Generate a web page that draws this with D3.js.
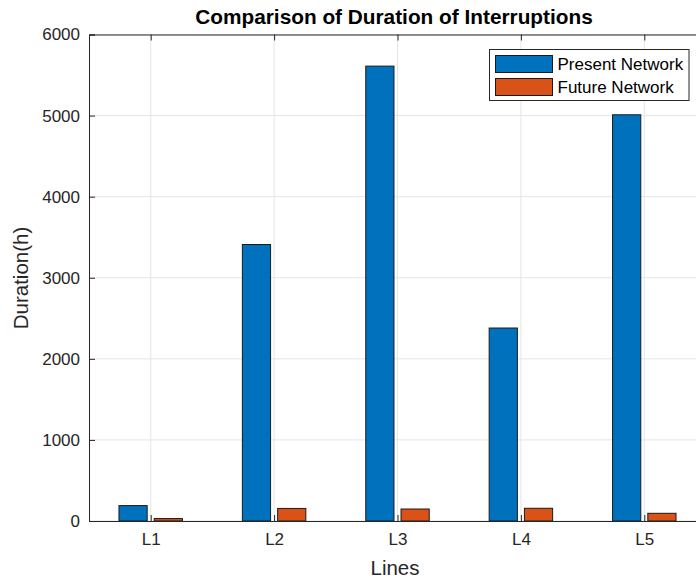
<!DOCTYPE html>
<html>
<head>
<meta charset="utf-8">
<script src="https://cdn.jsdelivr.net/npm/d3@7"></script>
<style>
  html, body { margin: 0; padding: 0; background: #fff; }
  svg { display: block; }
  text { font-family: "Liberation Sans", Arial, sans-serif; }
</style>
</head>
<body>
<svg id="chart" width="696" height="581"></svg>
<script>
// Interruption durations (hours) per distribution line
const categories = ["L1", "L2", "L3", "L4", "L5"];
const seriesNames = ["Present Network", "Future Network"];
const presentNetwork = [190, 3410, 5610, 2380, 5010];
const futureNetwork = [30, 155, 148, 157, 95];
const yTicks = [0, 1000, 2000, 3000, 4000, 5000, 6000];
const colors = ["#0072BD", "#D95319"];

const svg = d3.select("#chart");
const margin = { left: 89, top: 34.5 };
const plotBottom = 521;
// category spacing places the right box edge past the visible frame
const unit = 123.4;
const plotRight = margin.left + unit * 5;

const x = d3.scaleLinear().domain([0.5, 5.5]).range([margin.left, plotRight]);
const y = d3.scaleLinear().domain([0, 6000]).range([plotBottom, margin.top]);

const g = svg.append("g");

// grid
g.append("g").selectAll("line").data(yTicks).join("line")
  .attr("x1", margin.left).attr("x2", plotRight)
  .attr("y1", d => y(d)).attr("y2", d => y(d))
  .attr("stroke", "#e5e5e5").attr("stroke-width", 1);
g.append("g").selectAll("line").data(categories).join("line")
  .attr("x1", (d, i) => x(i + 1)).attr("x2", (d, i) => x(i + 1))
  .attr("y1", margin.top).attr("y2", plotBottom)
  .attr("stroke", "#e5e5e5").attr("stroke-width", 1);

// grouped bars
const groupWidth = Math.min(0.8, 2 / 3.5);
const barW = groupWidth / 2 * 0.8;
const series = [presentNetwork, futureNetwork];
series.forEach((vals, s) => {
  const off = (s === 0 ? -1 : 1) * groupWidth / 4;
  g.append("g").selectAll("rect").data(vals).join("rect")
    .attr("x", (d, i) => x(i + 1 + off - barW / 2))
    .attr("width", (d, i) => x(i + 1 + off + barW / 2) - x(i + 1 + off - barW / 2))
    .attr("y", d => y(d))
    .attr("height", d => y(0) - y(d))
    .attr("fill", colors[s])
    .attr("stroke", "#1a1a1a").attr("stroke-width", 1);
});

// axes
const axisColor = "#262626";
const yAxis = d3.axisLeft(y).tickValues(yTicks).tickSize(-6).tickPadding(9).tickFormat(d3.format("d"));
const yG = g.append("g").attr("transform", `translate(${margin.left},0)`).call(yAxis);
yG.select(".domain").attr("stroke", axisColor);
yG.selectAll(".tick line").attr("stroke", axisColor);
yG.selectAll(".tick text").attr("fill", axisColor).attr("font-size", 17)
  .attr("font-family", "Liberation Sans, Arial, sans-serif");

const xAxis = d3.axisBottom(x).tickValues([1, 2, 3, 4, 5]).tickSize(-6).tickPadding(12)
  .tickFormat(d => categories[d - 1]);
const xG = g.append("g").attr("transform", `translate(0,${plotBottom})`).call(xAxis);
xG.select(".domain").attr("stroke", axisColor);
xG.selectAll(".tick line").attr("stroke", axisColor);
xG.selectAll(".tick text").attr("fill", axisColor).attr("font-size", 17)
  .attr("font-family", "Liberation Sans, Arial, sans-serif");

// top box edge with inward ticks
const topAxis = d3.axisTop(x).tickValues([1, 2, 3, 4, 5]).tickSize(-6).tickFormat("");
const tG = g.append("g").attr("transform", `translate(0,${margin.top})`).call(topAxis);
tG.select(".domain").attr("stroke", axisColor);
tG.selectAll(".tick line").attr("stroke", axisColor);

// labels
svg.append("text").attr("x", 394).attr("y", 24).attr("text-anchor", "middle")
  .attr("font-size", 20.8).attr("font-weight", "bold").attr("fill", "#000")
  .text("Comparison of Duration of Interruptions");
svg.append("text").attr("x", 395).attr("y", 575).attr("text-anchor", "middle")
  .attr("font-size", 20.5).attr("fill", axisColor).text("Lines");
svg.append("text").attr("transform", "translate(27.5,278) rotate(-90)").attr("text-anchor", "middle")
  .attr("font-size", 20.5).attr("fill", axisColor).text("Duration(h)");

// legend
const lg = svg.append("g").attr("transform", "translate(489.5,49.5)");
lg.append("rect").attr("width", 199.5).attr("height", 51).attr("fill", "#fff")
  .attr("stroke", "#262626").attr("stroke-width", 1);
seriesNames.forEach((name, i) => {
  lg.append("rect").attr("x", 6).attr("y", 6 + i * 23).attr("width", 57).attr("height", 17)
    .attr("fill", colors[i]).attr("stroke", "#1a1a1a");
  lg.append("text").attr("x", 68).attr("y", 20.5 + i * 23).attr("font-size", 17)
    .attr("fill", "#000").text(name);
});
</script>
</body>
</html>
